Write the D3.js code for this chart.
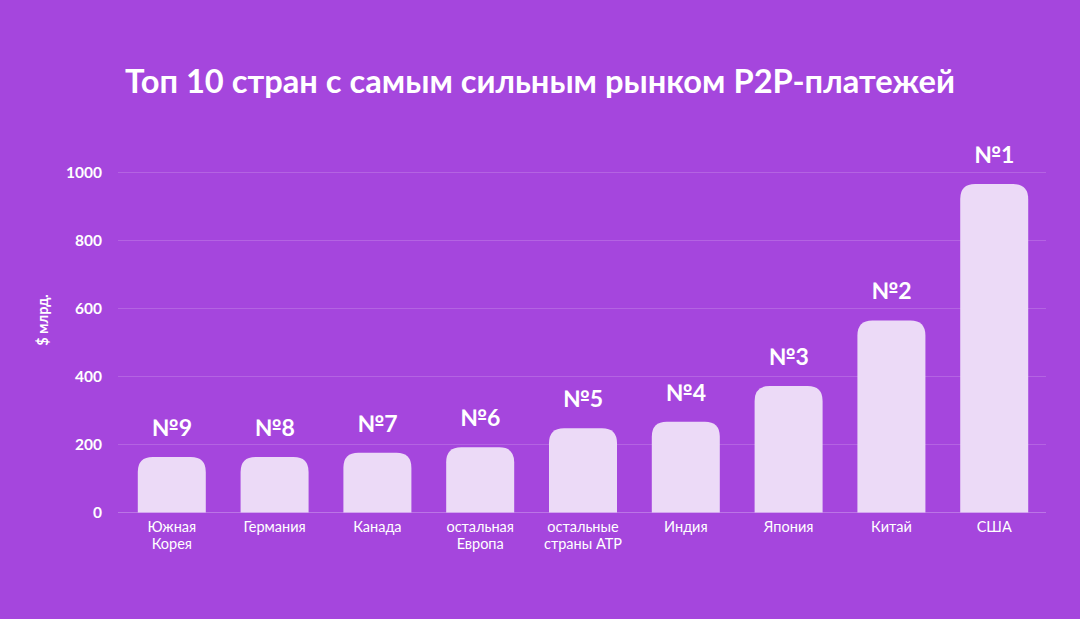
<!DOCTYPE html>
<html><head><meta charset="utf-8">
<script src="https://cdn.jsdelivr.net/npm/d3@7"></script>
<style>html,body{margin:0;padding:0;background:#a546dd;}svg{display:block;}</style>
</head><body>
<svg id="c" width="1080" height="619"></svg>
<script>
const categories = [["Южная","Корея"],["Германия"],["Канада"],["остальная","Европа"],["остальные","страны АТР"],["Индия"],["Япония"],["Китай"],["США"]];
const values = [163, 163, 176, 192, 248, 267, 372, 565, 966];
const ranks = ["№9","№8","№7","№6","№5","№4","№3","№2","№1"];
const yTicks = [0, 200, 400, 600, 800, 1000];
const title = "Топ 10 стран с самым сильным рынком P2P-платежей";
const yLabel = "$ млрд.";

const svg = d3.select("#c");
const W = 1080, H = 619;
svg.append("rect").attr("width", W).attr("height", H).attr("fill", "#a546dd");

const font = "Lato, 'Open Sans', sans-serif";
const x = d3.scaleBand().domain(d3.range(categories.length)).range([120, 1046]).paddingInner(0.3385).paddingOuter(0.173);
const y = d3.scaleLinear().domain([0, 1000]).range([512.5, 172.5]);

svg.append("text").attr("x", 540).attr("y", 93).attr("text-anchor", "middle")
  .attr("fill", "#fff").attr("font-family", font).attr("font-weight", 700).attr("font-size", 33)
  .attr("textLength", 830).attr("lengthAdjust", "spacingAndGlyphs").text(title);

// grid
const grid = svg.append("g");
grid.selectAll("line").data(yTicks).join("line")
  .attr("x1", 118).attr("x2", 1046)
  .attr("y1", d => y(d)).attr("y2", d => y(d))
  .attr("stroke", d => d === 0 ? "#bb74e6" : "#b463e2").attr("stroke-width", 1);

// y axis labels
const yAxis = d3.axisLeft(y).tickValues(yTicks).tickFormat(d3.format("d")).tickSize(0).tickPadding(0);
const ga = svg.append("g").attr("transform", "translate(102,0)").call(yAxis);
ga.select(".domain").remove();
ga.selectAll("text").attr("fill", "#fff").attr("font-family", font).attr("font-weight", 700).attr("font-size", 15.5).attr("dy", "0.35em");

svg.append("text").attr("transform", "translate(48,320) rotate(-90)").attr("text-anchor", "middle")
  .attr("fill", "#fff").attr("font-family", font).attr("font-weight", 700).attr("font-size", 14.5).text(yLabel);

// bars with rounded top
const r = 15;
function barPath(i) {
  const x0 = x(i), bw = x.bandwidth(), y0 = y(values[i]), yb = y(0);
  const rr = Math.min(r, (yb - y0));
  return `M${x0},${yb}V${y0 + rr}Q${x0},${y0} ${x0 + rr},${y0}H${x0 + bw - rr}Q${x0 + bw},${y0} ${x0 + bw},${y0 + rr}V${yb}Z`;
}
svg.append("g").selectAll("path").data(values).join("path")
  .attr("d", (d, i) => barPath(i)).attr("fill", "#ecdaf7");

// rank labels
svg.append("g").selectAll("text").data(ranks).join("text")
  .attr("x", (d, i) => x(i) + x.bandwidth() / 2).attr("y", (d, i) => y(values[i]) - 21)
  .attr("text-anchor", "middle").attr("fill", "#fff").attr("font-family", font)
  .attr("font-weight", 700).attr("font-size", 23).text(d => d);

// category labels
const cl = svg.append("g").selectAll("text").data(categories).join("text")
  .attr("text-anchor", "middle").attr("fill", "#fff").attr("font-family", font).attr("font-size", 14.5);
cl.each(function(d, i) {
  const t = d3.select(this);
  d.forEach((line, k) => {
    t.append("tspan").attr("x", x(i) + x.bandwidth() / 2).attr("y", 532 + k * 17).text(line);
  });
});
</script>
</body></html>
